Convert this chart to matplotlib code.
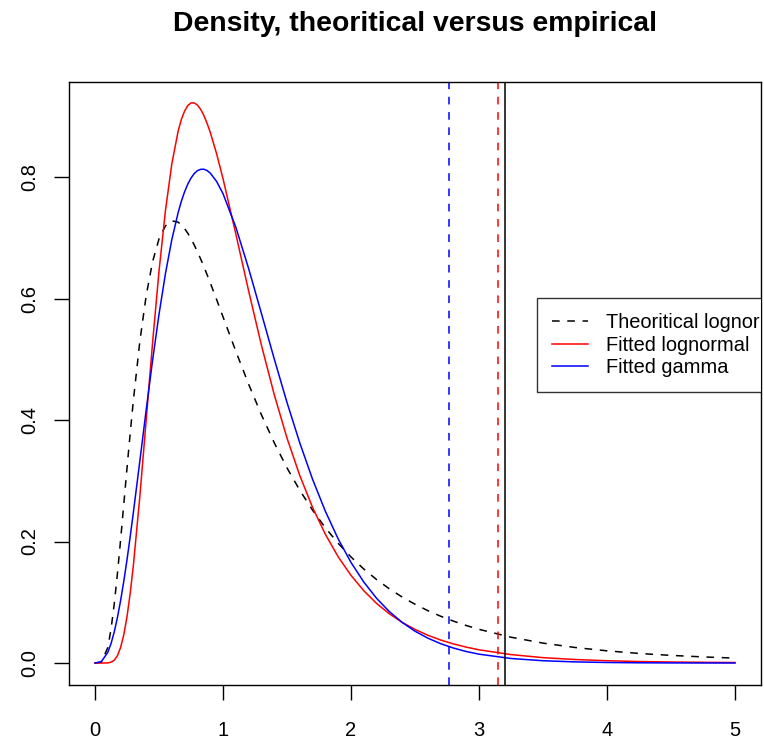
import matplotlib
matplotlib.use("Agg")
import matplotlib.pyplot as plt

plt.rcParams['font.family'] = ['Liberation Sans', 'DejaVu Sans']

# x positions at which the curves were read
x_vals = [0.0, 0.05, 0.1, 0.125, 0.15, 0.175, 0.2, 0.225, 0.25, 0.275, 0.3, 0.35, 0.4,
          0.45, 0.5, 0.55, 0.6, 0.65, 0.675, 0.7, 0.725, 0.75, 0.775, 0.8, 0.825, 0.85,
          0.875, 0.9, 0.95, 1.0, 1.1, 1.2, 1.3, 1.4, 1.5, 1.6, 1.7, 1.8, 1.9, 2.0, 2.1,
          2.2, 2.3, 2.4, 2.5, 2.6, 2.7, 2.8, 2.9, 3.0, 3.25, 3.5, 3.75, 4.0, 4.25, 4.5,
          4.75, 5.0]

theo_lognormal = [0.0, 0.0012, 0.0255, 0.0553, 0.0965, 0.1467, 0.2026, 0.2616, 0.3207,
                  0.3782, 0.4327, 0.5289, 0.605, 0.6607, 0.698, 0.7195, 0.7279, 0.7256,
                  0.7212, 0.715, 0.7074, 0.6984, 0.6882, 0.6771, 0.6652, 0.6527, 0.6396,
                  0.6261, 0.5983, 0.5699, 0.5133, 0.4591, 0.4087, 0.3627, 0.3212, 0.2843,
                  0.2515, 0.2225, 0.197, 0.1746, 0.1547, 0.1374, 0.1221, 0.1086, 0.0968,
                  0.0863, 0.0771, 0.069, 0.0618, 0.0555, 0.0425, 0.0328, 0.0256, 0.0201,
                  0.0158, 0.0126, 0.0101, 0.0081]

fitted_lognormal = [0.0, 0.0, 0.0002, 0.0013, 0.0046, 0.012, 0.0256, 0.0466, 0.0763,
                    0.1147, 0.1612, 0.2734, 0.4002, 0.5277, 0.6449, 0.7441, 0.8214, 0.876,
                    0.895, 0.9086, 0.9176, 0.9219, 0.9219, 0.9184, 0.9114, 0.9014, 0.8887,
                    0.8738, 0.8383, 0.7973, 0.7064, 0.6126, 0.5233, 0.442, 0.3703, 0.3085,
                    0.256, 0.2118, 0.1748, 0.1443, 0.119, 0.0981, 0.081, 0.0669, 0.0553,
                    0.0458, 0.0379, 0.0315, 0.0262, 0.0218, 0.0139, 0.0089, 0.0058, 0.0038,
                    0.0025, 0.0017, 0.0012, 0.0008]

fitted_gamma = [0.0, 0.0025, 0.0176, 0.0319, 0.0509, 0.0747, 0.1028, 0.1347, 0.17, 0.2081,
                0.2482, 0.332, 0.4168, 0.4985, 0.5739, 0.6405, 0.6968, 0.7418, 0.7603,
                0.7756, 0.7883, 0.7982, 0.8056, 0.8104, 0.8126, 0.8128, 0.8107, 0.8065,
                0.7927, 0.7726, 0.7175, 0.6495, 0.5756, 0.5008, 0.4289, 0.3623, 0.3023,
                0.2497, 0.2042, 0.1656, 0.1333, 0.1065, 0.0846, 0.0668, 0.0524, 0.041,
                0.0319, 0.0247, 0.019, 0.0146, 0.0075, 0.0038, 0.0019, 0.0009, 0.0004,
                0.0002, 0.0001, 0.0001]

# vertical reference lines
vline_gamma = 2.766
vline_lognormal = 3.15
vline_empirical = 3.205

legend_labels = ["Theoritical lognormal", "Fitted lognormal", "Fitted gamma"]
x_ticks = [0, 1, 2, 3, 4, 5]
y_ticks = [0.0, 0.2, 0.4, 0.6, 0.8]
y_tick_labels = ["0.0", "0.2", "0.4", "0.6", "0.8"]

fig = plt.figure(figsize=(7.64, 7.44), dpi=100)
ax = fig.add_axes([69.4 / 764, (744 - 685.4) / 744, (760.6 - 69.4) / 764, (685.4 - 81.6) / 744])

lw = 1.1
dash = (5, 5)
l1, = ax.plot(x_vals, theo_lognormal, color='black', lw=lw, dashes=dash)
l2, = ax.plot(x_vals, fitted_lognormal, color='red', lw=lw)
l3, = ax.plot(x_vals, fitted_gamma, color='blue', lw=lw)

ax.axvline(vline_gamma, color='blue', lw=lw, dashes=dash)
ax.axvline(vline_lognormal, color='red', lw=lw, dashes=dash)
ax.axvline(vline_empirical, color='black', lw=lw)

ax.set_xlim(-0.2, 5.2)
ax.set_ylim(-0.0368, 0.957)
ax.set_xticks(x_ticks)
ax.set_xticklabels([str(t) for t in x_ticks])
ax.set_yticks(y_ticks)
ax.set_yticklabels(y_tick_labels, rotation=90, va='center')
ax.tick_params(direction='out', length=10.5, width=1, labelsize=14.5)
ax.tick_params(axis='x', pad=15)
ax.tick_params(axis='y', pad=11)
for s in ax.spines.values():
    s.set_linewidth(1)

fig.text((69.4 + 760.6) / 2 / 764, 1 - 31 / 744, "Density, theoritical versus empirical",
         fontsize=20.4, fontweight='bold', ha='center', va='baseline')

leg = ax.legend([l1, l2, l3], legend_labels, loc='upper left',
                bbox_to_anchor=(536.7 / 764, 1 - 298.3 / 744), bbox_transform=fig.transFigure,
                borderaxespad=0, frameon=True, fancybox=False, fontsize=14.4,
                handlelength=1.83, handletextpad=0.86, labelspacing=0.17, borderpad=0.75)
leg.get_frame().set_edgecolor('black')
leg.get_frame().set_linewidth(1)
# the reference legend runs past the plot region and is clipped there
for a in leg.findobj():
    a.set_clip_box(ax.bbox)
    a.set_clip_on(True)

fig.savefig("out.png", dpi=100)
